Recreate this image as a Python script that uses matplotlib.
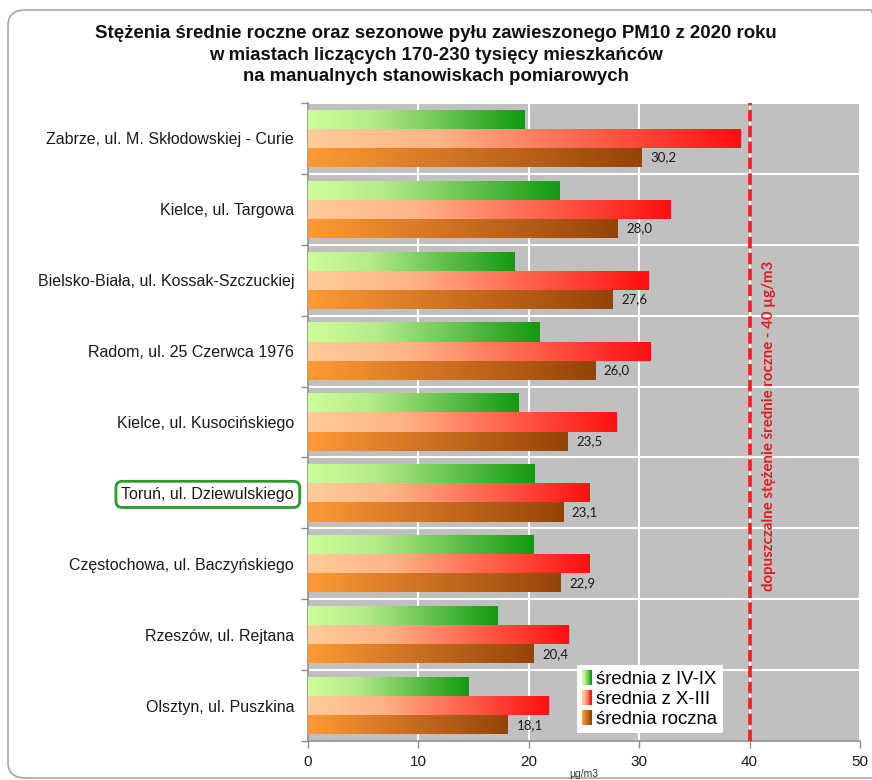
import numpy as np
import matplotlib
matplotlib.use("Agg")
import matplotlib.pyplot as plt
from matplotlib.colors import LinearSegmentedColormap
from matplotlib.patches import FancyBboxPatch, Rectangle
from matplotlib.legend_handler import HandlerBase

# ---- data -------------------------------------------------------------
stations = [
    "Zabrze, ul. M. Skłodowskiej - Curie",
    "Kielce, ul. Targowa",
    "Bielsko-Biała, ul. Kossak-Szczuckiej",
    "Radom, ul. 25 Czerwca 1976",
    "Kielce, ul. Kusocińskiego",
    "Toruń, ul. Dziewulskiego",
    "Częstochowa, ul. Baczyńskiego",
    "Rzeszów, ul. Rejtana",
    "Olsztyn, ul. Puszkina",
]
summer = [19.6, 22.8, 18.7, 21.0, 19.1, 20.5, 20.4, 17.2, 14.5]   # IV-IX
winter = [39.2, 32.8, 30.8, 31.0, 27.9, 25.5, 25.5, 23.6, 21.8]   # X-III
annual = [30.2, 28.0, 27.6, 26.0, 23.5, 23.1, 22.9, 20.4, 18.1]
series_names = ["średnia z IV-IX", "średnia z X-III", "średnia roczna"]
limit_value = 40
limit_label = "dopuszczalne stężenie średnie roczne - 40 µg/m3"
highlight = "Toruń, ul. Dziewulskiego"
x_ticks = [0, 10, 20, 30, 40, 50]
title = ("Stężenia średnie roczne oraz sezonowe pyłu zawieszonego PM10 z 2020 roku\n"
         "w miastach liczących 170-230 tysięcy mieszkańców\n"
         "na manualnych stanowiskach pomiarowych")

# ---- styles -----------------------------------------------------------
gradients = [
    ["#CCFF99", "#B5EB88", "#129912"],
    ["#FFCC99", "#FFB487", "#FF1010"],
    ["#FF9A35", "#E07F28", "#944408"],
]
cmaps = [LinearSegmentedColormap.from_list(f"g{i}", list(zip([0, 0.3, 1], c)))
         for i, c in enumerate(gradients)]

plt.rcParams["font.family"] = ["Liberation Sans", "DejaVu Sans"]

fig = plt.figure(figsize=(8.72, 7.8), dpi=100)
fig.patch.set_facecolor("white")

# rounded outer frame
frame = FancyBboxPatch((8 / 872, 2 / 780), 880 / 872, 768 / 780,
                       boxstyle="round,pad=0,rounding_size=0.02",
                       transform=fig.transFigure, fc="none", ec="#A6A6A6",
                       lw=1.2, clip_on=False)
fig.patches.append(frame)

ax = fig.add_axes([308 / 872, 1 - 741 / 780, 552 / 872, 638 / 780])
ax.set_facecolor("#C0C0C0")

n = len(stations)
ypos = np.arange(n)
h = 0.27
grad = np.linspace(0, 1, 256).reshape(1, -1)

for k, (vals, cmap) in enumerate(zip([summer, winter, annual], cmaps)):
    bars = ax.barh(ypos + (k - 1) * h, vals, height=h, facecolor="none",
                   edgecolor="none", zorder=3)
    for b in bars:
        x0, y0, w, hh = b.get_x(), b.get_y(), b.get_width(), b.get_height()
        im = ax.imshow(grad, cmap=cmap, aspect="auto", interpolation="bilinear",
                       extent=[x0, x0 + w, y0 + hh, y0], zorder=3)
        im.set_clip_path(b)

# value labels on the annual bars
for y, v in zip(ypos, annual):
    ax.text(v + 0.8, y + h, f"{v:.1f}".replace(".", ","), va="center", ha="left",
            fontsize=9.5, family=["Lato", "DejaVu Sans"], color="#1A1A1A", zorder=5)

ax.set_xlim(0, 50)
ax.set_ylim(n - 0.5, -0.5)

# grid & ticks
ax.set_xticks(x_ticks)
ax.set_xticklabels([str(t) for t in x_ticks], fontsize=11, color="#1A1A1A")
ax.set_yticks(np.arange(-0.5, n, 1.0))
ax.set_yticklabels([])
ax.set_yticks(ypos, minor=True)
ax.set_yticklabels(stations, minor=True, fontsize=11.5, color="#1A1A1A")
ax.tick_params(axis="y", which="minor", length=0, pad=10)
ax.tick_params(axis="y", which="major", length=5, color="#8C8C8C", width=1)
ax.tick_params(axis="x", length=5, color="#8C8C8C", width=1, pad=5)
ax.grid(True, which="major", color="white", lw=1.5, zorder=1)
ax.set_axisbelow(True)
for s in ("top", "right"):
    ax.spines[s].set_visible(False)
for s in ("left", "bottom"):
    ax.spines[s].set_color("#8C8C8C")
    ax.spines[s].set_linewidth(1.2)

for lab in ax.get_yticklabels(minor=True):
    if lab.get_text() == highlight:
        lab.set_bbox(dict(boxstyle="round,pad=0.35,rounding_size=0.4", fc="white",
                          ec="#2A9A2A", lw=2))

# limit line
ax.axvline(limit_value, color="#FF1A1A", lw=2.6, ls=(0, (3.2, 1.2)), zorder=4)
ax.text(limit_value + 1.75, 4.05, limit_label, rotation=90, ha="center", va="center",
        color="#E8191E", fontsize=10.8, fontweight="bold",
        family=["Lato", "DejaVu Sans"], zorder=5)

fig.text(0.5, 1 - 55 / 780, title, ha="center", va="center", fontsize=13.4,
         fontweight="bold", linespacing=1.38, color="#111111")
fig.text(584 / 872, 1 - 774 / 780, "µg/m3", ha="center", va="center",
         fontsize=7.5, color="#333333")


# legend with gradient swatches
class GradientHandler(HandlerBase):
    def __init__(self, cmap, steps=12):
        super().__init__()
        self.cmap = cmap
        self.steps = steps

    def create_artists(self, legend, orig_handle, xdescent, ydescent, width,
                       height, fontsize, trans):
        arts = []
        sw = width / self.steps
        for i in range(self.steps):
            arts.append(Rectangle((-xdescent + i * sw, -ydescent), sw * 1.05,
                                  height, fc=self.cmap(i / (self.steps - 1)),
                                  ec="none", transform=trans))
        return arts


handles = [Rectangle((0, 0), 1, 1) for _ in cmaps]
leg = ax.legend(handles, series_names,
                handler_map={hd: GradientHandler(c) for hd, c in zip(handles, cmaps)},
                loc="lower left", bbox_to_anchor=(0.487, 0.012), fontsize=13.3,
                frameon=True, fancybox=False, framealpha=1, edgecolor="none",
                handlelength=0.5, handleheight=0.85, handletextpad=0.25,
                borderpad=0.3, labelspacing=0.12, borderaxespad=0)
leg.set_zorder(6)

fig.savefig("out.png", dpi=100)
